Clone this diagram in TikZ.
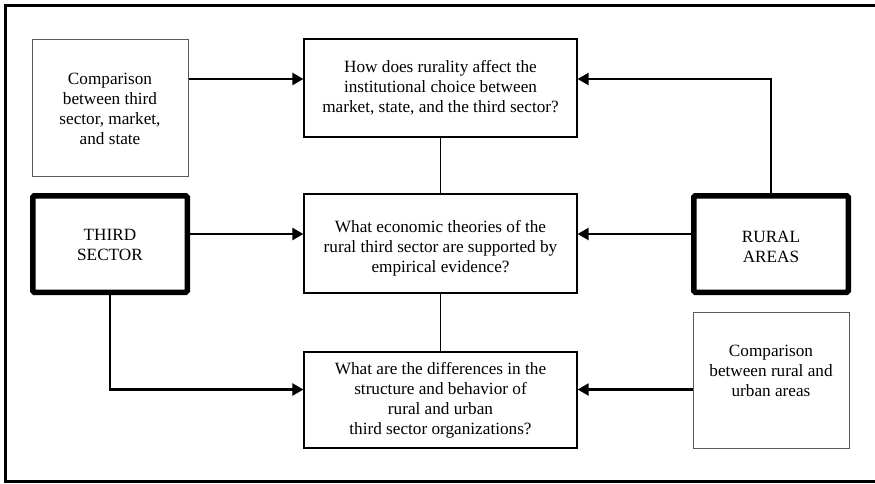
\documentclass[tikz,border=0pt]{standalone}
\usepackage{fontspec}
\setmainfont{Liberation Serif}
\newfontfamily\boxfont{Liberation Serif}
\usetikzlibrary{arrows.meta}
\begin{document}
\begin{tikzpicture}[x=1pt,y=-1pt,
  txt/.style={align=center,font=\boxfont\fontsize{17.2}{20}\selectfont,inner sep=0pt},
  thinbox/.style={draw=black!65,line width=1pt,inner sep=0pt,txt},
  qbox/.style={draw=black,line width=1.2pt,inner sep=0pt,txt,minimum width=273pt},
  heavybox/.style={draw=black,line width=5.5pt,rounded corners=1.5pt,inner sep=0pt,txt,minimum width=154.5pt,minimum height=96.5pt},
  arr/.style={line width=2.2pt,-{Triangle[length=11pt,width=12pt]}},
  link/.style={line width=1.8pt}]
\useasboundingbox (0,0) rectangle (875,483);
% outer frame (right edge outside the picture)
\draw[line width=3pt] (880,5) -- (5,5) -- (5,481.5) -- (880,481.5);
% boxes
\node[thinbox,minimum width=156pt,minimum height=137pt] (comp1) at (110,107.5) {};
\node[txt] (comp1t) at (110,109) {Comparison\\between third\\sector, market,\\and state};
\node[qbox,minimum height=98pt] (top) at (440.5,88) {How does rurality affect the\\institutional choice between\\market, state, and the third sector?};
\node[heavybox] (third) at (110,244) {};
\node[txt] (thirdt) at (110,245) {THIRD\\SECTOR};
\node[qbox,minimum height=99pt] (mid) at (440.5,243.5) {};
\node[txt] (midt) at (440.5,248) {What economic theories of the\\rural third sector are supported by\\empirical evidence?};
\node[qbox,minimum height=96pt] (bot) at (440.5,400) {What are the differences in the\\structure and behavior of\\rural and urban\\third sector organizations?};
\node[heavybox] (rural) at (771,244) {};
\node[txt] (ruralt) at (771,247) {RURAL\\AREAS};
\node[thinbox,minimum width=156pt,minimum height=136pt] (comp2) at (771,380) {};
\node[txt] (comp2t) at (771,371) {Comparison\\between rural and\\urban areas};
% helper levels
\coordinate (ytop) at (0,79);
\coordinate (ymid) at (0,234);
\coordinate (ybot) at (0,389.5);
% connectors
\draw[arr] (comp1.east |- ytop) -- (top.west |- ytop);
\draw[arr] (rural.north) -- (rural.north |- ytop) -- (top.east |- ytop);
\draw[link] (top.south) -- (mid.north);
\draw[link] (mid.south) -- (bot.north);
\draw[arr] (third.east |- ymid) -- (mid.west |- ymid);
\draw[arr] (rural.west |- ymid) -- (mid.east |- ymid);
\draw[arr] (third.south) -- (third.south |- ybot) -- (bot.west |- ybot);
\draw[arr] (comp2.west |- ybot) -- (bot.east |- ybot);
\end{tikzpicture}
\end{document}
